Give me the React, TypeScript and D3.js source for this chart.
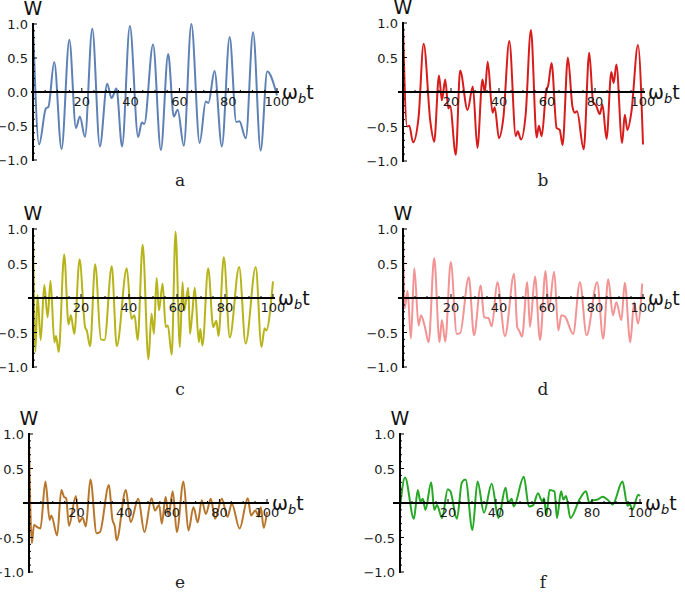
import * as d3 from "d3";

// W(t) readings, [ω_b t, W], local extrema and shoulders
const seriesA = [
  [0, 1.0], [2.5, -0.77], [5.3, -0.24], [6.3, -0.22], [8.7, 0.44], [11.7, -0.84], [14.9, 0.77],
  [17.6, -0.53], [19.2, -0.36], [21.3, -0.66], [24.3, 0.93], [27.4, -0.8], [30.4, 0.12], [32.2, -0.09],
  [34.2, 0.05], [36.5, -0.8], [39.7, 0.97], [43.1, -0.66], [44.6, -0.45], [45.6, -0.47], [49.2, 0.7],
  [52.4, -0.85], [55.4, 0.56], [57.7, -0.36], [59.3, -0.26], [61.8, -0.79], [64.9, 1.0], [68.3, -0.75],
  [70.8, -0.14], [71.9, -0.16], [74.4, 0.31], [77.4, -0.8], [80.6, 0.81], [83.3, -0.44], [84.6, -0.43],
  [87.2, -0.68], [90.2, 0.88], [93.3, -0.86], [96.0, 0.3], [100, -0.05],
];

const seriesB = [
  [0, 0.95], [1.7, -0.5], [2.6, -0.49], [4.2, -0.73], [6.5, -0.36], [8.6, 0.7], [11.4, -0.43],
  [13.0, -0.72], [15.0, 0.24], [16.2, -0.12], [17.6, 0.18], [18.9, -0.24], [19.6, -0.2], [22.0, -0.91],
  [23.8, 0.31], [26.9, -0.26], [29.1, 0.08], [31.0, -0.81], [33.1, 0.18], [34.1, 0.0], [35.3, 0.44],
  [37.3, -0.3], [38.2, -0.22], [40.0, -0.67], [41.8, -0.38], [44.3, 0.74], [47.0, -0.64], [47.8, -0.57],
  [49.2, -0.69], [51.1, -0.33], [53.3, 0.9], [55.7, -0.66], [56.6, -0.49], [57.8, -0.64], [59.8, 0.05],
  [60.4, 0.08], [61.9, 0.42], [64.0, -0.52], [65.3, -0.55], [66.5, -0.77], [68.7, 0.5], [70.6, -0.21],
  [71.6, -0.3], [72.5, -0.28], [75.3, -0.83], [77.6, 0.57], [79.2, -0.14], [80.5, -0.2], [82.0, -0.32],
  [83.1, -0.18], [84.8, -0.68], [86.8, 0.29], [87.8, 0.13], [88.9, 0.4], [91.3, -0.74], [92.4, -0.33],
  [93.5, -0.55], [95.2, -0.28], [97.9, 0.68], [100, -0.76],
];

const seriesC = [
  [0, 1.0], [1.0, -0.78], [1.9, 0.04], [3.2, -0.61], [4.7, 0.19], [6.1, -0.28], [7.3, 0.25],
  [8.9, -0.64], [9.6, -0.55], [10.7, -0.78], [13.0, 0.63], [14.8, -0.38], [15.8, -0.25], [17.2, -0.52],
  [19.4, 0.56], [21.7, -0.42], [22.4, -0.47], [23.8, -0.7], [25.9, 0.49], [28.3, -0.6], [29.8, -0.61],
  [32.8, 0.46], [34.9, -0.7], [39.1, 0.43], [41.0, -0.3], [42.3, -0.25], [43.6, -0.61], [45.7, 0.77],
  [48.1, -0.89], [49.4, -0.23], [50.4, -0.52], [51.5, 0.29], [52.5, -0.18], [54.0, 0.21], [55.3, -0.42],
  [56.2, -0.4], [57.8, -0.82], [59.4, 0.96], [61.2, -0.71], [62.3, 0.23], [63.0, -0.18], [64.7, 0.15],
  [65.4, -0.52], [66.3, -0.25], [67.4, 0.15], [69.1, -0.64], [69.7, -0.45], [70.6, -0.69], [73.0, 0.43],
  [75.1, -0.42], [76.4, -0.33], [77.3, -0.55], [79.5, 0.59], [82.0, -0.57], [85.9, 0.45], [88.6, -0.66],
  [92.8, 0.45], [95.2, -0.71], [96.5, -0.44], [97.2, -0.47], [100, 0.24],
];

const seriesD = [
  [0, 1.0], [0.7, -0.15], [1.9, 0.1], [3.3, -0.59], [4.7, 0.43], [6.5, -0.4], [7.5, -0.25], [9.0, -0.4],
  [10.7, -0.64], [13.0, 0.58], [15.2, -0.64], [16.2, -0.32], [17.6, -0.63], [19.9, 0.52], [22.4, -0.52],
  [23.8, -0.51], [27.4, 0.3], [29.6, -0.54], [32.4, 0.18], [33.8, -0.28], [35.6, -0.29], [37.0, -0.41],
  [39.3, 0.23], [42.5, -0.55], [46.3, 0.35], [47.6, -0.42], [48.5, -0.48], [49.6, -0.56], [51.8, 0.23],
  [52.9, -0.42], [55.0, 0.31], [57.1, -0.61], [59.4, 0.39], [60.7, -0.18], [63.0, 0.38], [64.7, -0.47],
  [66.0, -0.25], [67.5, -0.27], [70.9, -0.52], [73.7, 0.23], [76.5, -0.54], [80.9, 0.23], [83.4, -0.59],
  [85.5, 0.27], [87.5, -0.25], [88.9, -0.06], [91.0, -0.32], [92.4, 0.22], [94.7, -0.64], [96.3, -0.06],
  [97.9, -0.37], [99.7, 0.21],
];

const seriesE = [
  [0, 0.9], [1.2, -0.58], [2.1, -0.32], [3.5, -0.35], [4.8, -0.37], [6.9, 0.31], [8.7, -0.25],
  [9.4, -0.18], [11.8, -0.47], [13.6, 0.19], [14.7, 0.09], [15.6, 0.07], [16.8, -0.33], [19.7, 0.1],
  [21.1, -0.28], [22.5, -0.21], [23.9, -0.34], [25.8, 0.34], [28.4, -0.44], [29.8, -0.42], [33.6, 0.26],
  [35.0, -0.23], [36.1, -0.35], [36.8, -0.54], [40.7, 0.19], [42.7, -0.28], [45.9, 0.06], [48.5, -0.42],
  [51.5, 0.07], [52.9, -0.11], [54.7, -0.03], [55.8, -0.3], [57.4, 0.09], [58.6, -0.18], [60.4, 0.17],
  [62.1, -0.42], [64.9, 0.31], [67.0, -0.4], [69.1, -0.06], [70.9, -0.28], [72.6, 0.04], [74.3, -0.16],
  [76.4, 0.06], [78.2, -0.23], [81.0, 0.06], [83.4, -0.2], [85.2, -0.01], [88.5, -0.37], [91.9, 0.07],
  [93.3, -0.18], [95.1, -0.11], [96.6, -0.2], [97.4, -0.06], [98.6, -0.36], [100, -0.13],
];

const seriesF = [
  [0, -0.07], [2.1, 0.37], [5.8, -0.23], [7.4, 0.19], [8.5, 0.02], [9.5, 0.06], [10.6, -0.1], [13.0, 0.3],
  [14.3, -0.1], [15.4, -0.03], [17.5, -0.22], [19.9, 0.2], [21.0, 0.17], [23.7, -0.23], [25.8, 0.3],
  [27.3, 0.34], [30.2, -0.39], [32.3, 0.31], [35.0, -0.14], [38.2, 0.28], [41.0, -0.22], [44.0, 0.22],
  [45.1, 0.0], [46.5, 0.06], [47.4, -0.05], [51.6, 0.38], [53.7, -0.05], [55.5, -0.03], [57.5, 0.14],
  [59.3, 0.02], [60.0, 0.07], [61.0, -0.18], [62.3, 0.19], [64.4, 0.17], [65.4, -0.22], [67.1, 0.17],
  [68.1, 0.05], [69.2, 0.1], [71.0, -0.22], [74.8, 0.05], [77.5, 0.17], [78.9, 0.0], [80.3, 0.04],
  [82.3, 0.05], [84.4, 0.09], [86.4, 0.05], [88.6, -0.02], [92.7, 0.31], [94.8, -0.04], [95.9, -0.02],
  [96.8, -0.1], [99.3, 0.12], [100, 0.1],
];

const panelLetters = ["a", "b", "c", "d", "e", "f"];
const lineColors = ["#5e81b5", "#d71c1c", "#b6b41a", "#f39393", "#b8762c", "#26a826"];
const yTickValues = [-1, -0.5, 0, 0.5, 1];
const xTickValues = [20, 40, 60, 80, 100];

const panels = [
  { data: seriesA, axisX: 33, x1: 277, yTop: 24, yZero: 92, zero: true, leftExt: 2, lx: 180, ly: 186 },
  { data: seriesB, axisX: 403, x1: 643, yTop: 23, yZero: 92, zero: false, leftExt: 5, lx: 543, ly: 186 },
  { data: seriesC, axisX: 33, x1: 273, yTop: 229, yZero: 298, zero: false, leftExt: 5, lx: 180, ly: 395 },
  { data: seriesD, axisX: 403, x1: 643, yTop: 229, yZero: 298, zero: false, leftExt: 5, lx: 543, ly: 395 },
  { data: seriesE, axisX: 29, x1: 267, yTop: 434, yZero: 503, zero: false, leftExt: 6, lx: 180, ly: 588 },
  { data: seriesF, axisX: 400, x1: 640, yTop: 434, yZero: 503, zero: false, leftExt: 7, lx: 543, ly: 588 },
];

const sans = "'DejaVu Sans', Verdana, sans-serif";

const Panel = ({ p, i }: { p: any; i: number }) => {
  const x = d3.scaleLinear().domain([0, 100]).range([p.axisX, p.x1]);
  const y = d3
    .scaleLinear()
    .domain([-1, 1])
    .range([p.yZero + (p.yZero - p.yTop), p.yTop]);
  const line = d3
    .line<number[]>()
    .x((d) => x(d[0]))
    .y((d) => y(d[1]))
    .curve(d3.curveMonotoneX);

  const yMinor = d3.range(-10, 11).map((k) => k / 10);
  const xMinor = d3.range(5, 101, 5);
  const fmt = d3.format(".1f");

  return (
    <g>
      <path d={line(p.data) || ""} fill="none" stroke={lineColors[i]} strokeWidth={2} strokeLinejoin="round" />
      {/* axes */}
      <line x1={p.axisX - p.leftExt} x2={p.x1 + 2} y1={y(0)} y2={y(0)} stroke="#000" strokeWidth={2} />
      <line x1={p.axisX} x2={p.axisX} y1={y(1) - 1} y2={y(-1) + 1} stroke="#000" strokeWidth={2} />
      {yMinor.map((v) => (
        <line key={"ym" + v} x1={p.axisX} x2={p.axisX + (Math.abs(v * 2 - Math.round(v * 2)) < 1e-6 ? 4 : 2)}
          y1={y(v)} y2={y(v)} stroke="#000" strokeWidth={1} />
      ))}
      {xMinor.map((v) => (
        <line key={"xm" + v} x1={x(v)} x2={x(v)} y1={y(0)} y2={y(0) - (v % 20 === 0 ? 4 : 2)} stroke="#000" strokeWidth={1} />
      ))}
      {yTickValues
        .filter((v) => p.zero || v !== 0)
        .map((v) => (
          <text key={"yl" + v} x={p.axisX - 5} y={y(v) + 5} textAnchor="end" fontSize={13} fontFamily={sans} fill="#1a1a1a">
            {fmt(v)}
          </text>
        ))}
      {xTickValues.map((v) => (
        <text key={"xl" + v} x={x(v)} y={y(0) + 14} textAnchor="middle" fontSize={13} fontFamily={sans} fill="#1a1a1a">
          {v}
        </text>
      ))}
      <text x={p.axisX} y={p.yTop - 9} textAnchor="middle" fontSize={19} fontFamily={sans} fill="#111">W</text>
      <text x={p.x1 + 5} y={y(0) + 7} fontSize={19} fontFamily={sans} fill="#111">
        <tspan>ω</tspan>
        <tspan fontSize={13} dy={4} fontStyle="italic">b</tspan>
        <tspan dy={-4}>t</tspan>
      </text>
      <text x={p.lx} y={p.ly} textAnchor="middle" fontSize={17} fontFamily="'DejaVu Serif', serif" fill="#222">
        {panelLetters[i]}
      </text>
    </g>
  );
};

export default function App() {
  return (
    <svg width={685} height={604} viewBox="0 0 685 604" style={{ position: "absolute", left: 0, top: 0 }}>
      <rect width={685} height={604} fill="#fff" />
      {panels.map((p, i) => (
        <Panel key={i} p={p} i={i} />
      ))}
    </svg>
  );
}
